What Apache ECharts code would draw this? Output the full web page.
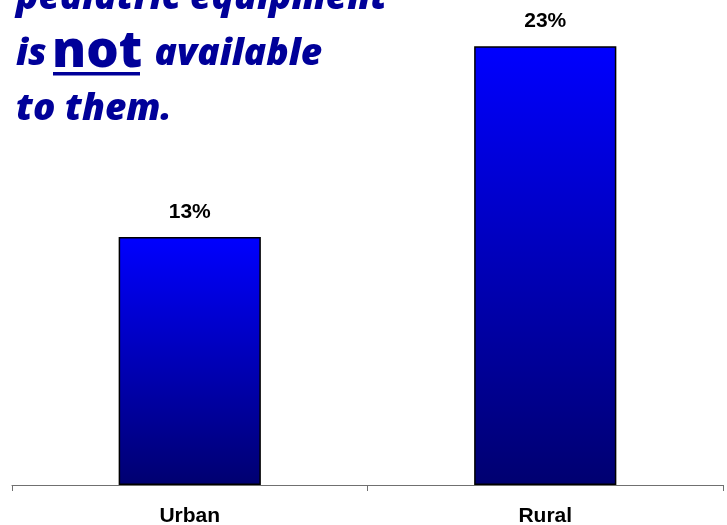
<!DOCTYPE html>
<html>
<head>
<meta charset="utf-8">
<script src="https://cdn.jsdelivr.net/npm/echarts@6/dist/echarts.min.js"></script>
<style>
html,body{margin:0;padding:0;background:#fff;}
#main{width:727px;height:525px;}
</style>
</head>
<body>
<div id="main"></div>
<script>
var categories = ['Urban', 'Rural'];
var values = [13, 23];
var titleLines = ['pediatric equipment', 'is ', 'not', ' available', 'to them.'];

var chart = echarts.init(document.getElementById('main'));
var blue = '#000099';
var itFont = 'italic 800 37px "Open Sans"';
chart.setOption({
  animation: false,
  backgroundColor: '#ffffff',
  grid: { left: 12, right: 4, top: 8, bottom: 40, containLabel: false, outerBoundsMode: 'none' },
  xAxis: {
    type: 'category',
    data: categories,
    axisLine: { lineStyle: { color: '#707070', width: 1 } },
    axisTick: { show: true, length: 6, lineStyle: { color: '#707070' } },
    axisLabel: {
      margin: 21,
      color: '#000',
      fontFamily: 'Liberation Sans, Arial',
      fontWeight: 'bold',
      fontSize: 21
    }
  },
  yAxis: { type: 'value', min: 0, max: 25, show: false, splitLine: { show: false } },
  series: [{
    type: 'bar',
    data: values,
    barWidth: '40%',
    itemStyle: {
      borderColor: '#000',
      borderWidth: 1.5,
      color: new echarts.graphic.LinearGradient(0, 0, 0, 1, [
        { offset: 0, color: '#0000ff' },
        { offset: 1, color: '#000070' }
      ])
    },
    label: {
      show: true,
      position: 'top',
      distance: 14,
      formatter: '{c}%',
      color: '#000',
      fontFamily: 'Liberation Sans, Arial',
      fontWeight: 'bold',
      fontSize: 21
    }
  }],
  graphic: [
    { type: 'text', left: 16, top: -20, style: { text: titleLines[0], font: itFont, fill: blue } },
    { type: 'text', left: 16, top: 36, style: { text: titleLines[1], font: itFont, fill: blue } },
    { type: 'text', left: 52, top: 27, style: { text: titleLines[2], font: '800 51px "Open Sans"', fill: blue } },
    { type: 'rect', shape: { x: 53, y: 72, width: 87, height: 3.5 }, style: { fill: blue } },
    { type: 'text', left: 145, top: 36, style: { text: titleLines[3], font: itFont, fill: blue } },
    { type: 'text', left: 16, top: 91, style: { text: titleLines[4], font: itFont, fill: blue } }
  ]
});
</script>
</body>
</html>
